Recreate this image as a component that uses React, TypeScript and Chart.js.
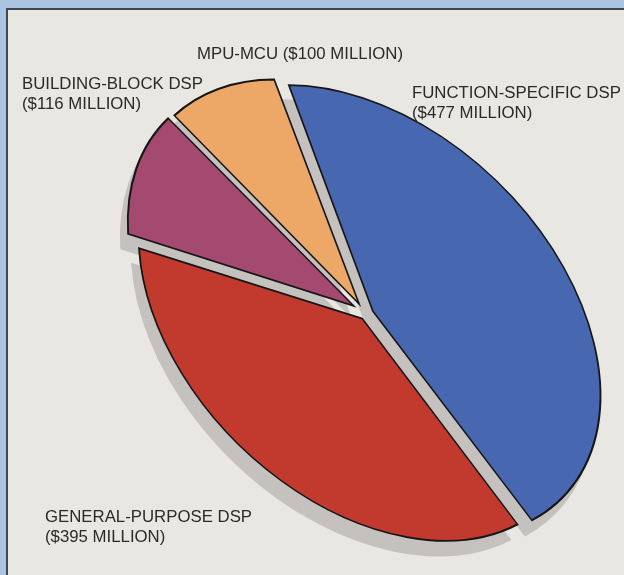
import React, { useEffect, useRef } from "react";
import { Chart, registerables } from "chart.js";

Chart.register(...registerables);

// ---- data ----
const CATEGORIES = ["FUNCTION-SPECIFIC DSP", "GENERAL-PURPOSE DSP", "BUILDING-BLOCK DSP", "MPU-MCU"];
const VALUES = [477, 395, 116, 100]; // $ millions
const VALUE_LABELS = VALUES.map((v) => `($${v} MILLION)`);

// ---- styles / layout ----
const COLORS = ["#4768b0", "#c13a2d", "#a4496f", "#eda767"];
const EXPLODE = [44, 36, 54, 44];
const LABEL_POS = [
  { x: 412, y: 93, single: false },
  { x: 45, y: 517, single: false },
  { x: 22, y: 84.5, single: false },
  { x: 197, y: 54, single: true },
];
const TILT = { cx: 365, cy: 313, a: 259, b: 175, angle: 44.5 };
const SHADOW = { dx: -7, dy: 15, color: "#c5c1be" };
const W = 624;
const H = 575;

function applyTilt(ctx: CanvasRenderingContext2D, el: any) {
  const R = el.outerRadius;
  ctx.translate(TILT.cx, TILT.cy);
  ctx.rotate((TILT.angle * Math.PI) / 180);
  ctx.scale(TILT.a / R, TILT.b / R);
  ctx.translate(-el.x, -el.y);
}

const backgroundPlugin = {
  id: "panelBackground",
  beforeDraw(chart: any) {
    const ctx = chart.ctx as CanvasRenderingContext2D;
    ctx.save();
    ctx.fillStyle = "#a9c5e2";
    ctx.fillRect(0, 0, W, H);
    ctx.fillStyle = "#e8e7e2";
    ctx.fillRect(7, 9, W, H);
    ctx.strokeStyle = "#3f4652";
    ctx.lineWidth = 2;
    ctx.strokeRect(7, 9, W + 10, H + 10);
    ctx.restore();
  },
};

const tiltPlugin = {
  id: "tiltPie",
  beforeDatasetsDraw(chart: any) {
    const ctx = chart.ctx as CanvasRenderingContext2D;
    const meta = chart.getDatasetMeta(0);
    const els = meta.data;
    if (!els.length) return;
    // drop shadow of every slice, drawn beneath all slices
    ctx.save();
    ctx.translate(SHADOW.dx, SHADOW.dy);
    applyTilt(ctx, els[0]);
    ctx.fillStyle = SHADOW.color;
    for (const el of els) {
      const off = (el.options.offset || 0) / 4;
      const circ = el.endAngle - el.startAngle;
      const half = (el.startAngle + el.endAngle) / 2;
      const fix = 1 - Math.sin(Math.min(Math.PI, circ));
      const r = el.outerRadius + off * fix + 1;
      const x = el.x + Math.cos(half) * off;
      const y = el.y + Math.sin(half) * off;
      ctx.beginPath();
      ctx.moveTo(x, y);
      ctx.arc(x, y, r, el.startAngle, el.endAngle);
      ctx.closePath();
      ctx.fill();
    }
    ctx.restore();
    ctx.save();
    applyTilt(ctx, els[0]);
  },
  afterDatasetsDraw(chart: any) {
    const meta = chart.getDatasetMeta(0);
    if (!meta.data.length) return;
    chart.ctx.restore();
  },
};

const labelPlugin = {
  id: "sliceLabels",
  afterDraw(chart: any) {
    const ctx = chart.ctx as CanvasRenderingContext2D;
    ctx.save();
    ctx.fillStyle = "#2a2a2a";
    ctx.font = '16.8px "Liberation Sans", Arial, sans-serif';
    ctx.textBaseline = "middle";
    ctx.textAlign = "left";
    CATEGORIES.forEach((name, i) => {
      const p = LABEL_POS[i];
      if (p.single) {
        ctx.fillText(`${name} ${VALUE_LABELS[i]}`, p.x, p.y);
      } else {
        ctx.fillText(name, p.x, p.y);
        ctx.fillText(VALUE_LABELS[i], p.x, p.y + 20);
      }
    });
    ctx.restore();
  },
};

export default function App() {
  const ref = useRef<HTMLCanvasElement | null>(null);
  useEffect(() => {
    if (!ref.current) return;
    const chart = new Chart(ref.current, {
      type: "pie",
      data: {
        labels: CATEGORIES,
        datasets: [
          {
            data: VALUES,
            backgroundColor: COLORS,
            borderColor: "#161616",
            borderWidth: 2.2,
            borderJoinStyle: "miter",
            offset: EXPLODE,
          } as any,
        ],
      },
      options: {
        responsive: false,
        animation: false,
        devicePixelRatio: 1,
        rotation: -55.5,
        layout: { padding: 0 },
        plugins: {
          legend: { display: false },
          tooltip: { enabled: false },
          title: { display: false },
        },
      } as any,
      plugins: [backgroundPlugin, tiltPlugin, labelPlugin],
    });
    return () => chart.destroy();
  }, []);
  return (
    <div style={{ position: "fixed", left: 0, top: 0, width: W, height: H }}>
      <canvas ref={ref} width={W} height={H} style={{ width: W, height: H, display: "block" }} />
    </div>
  );
}
